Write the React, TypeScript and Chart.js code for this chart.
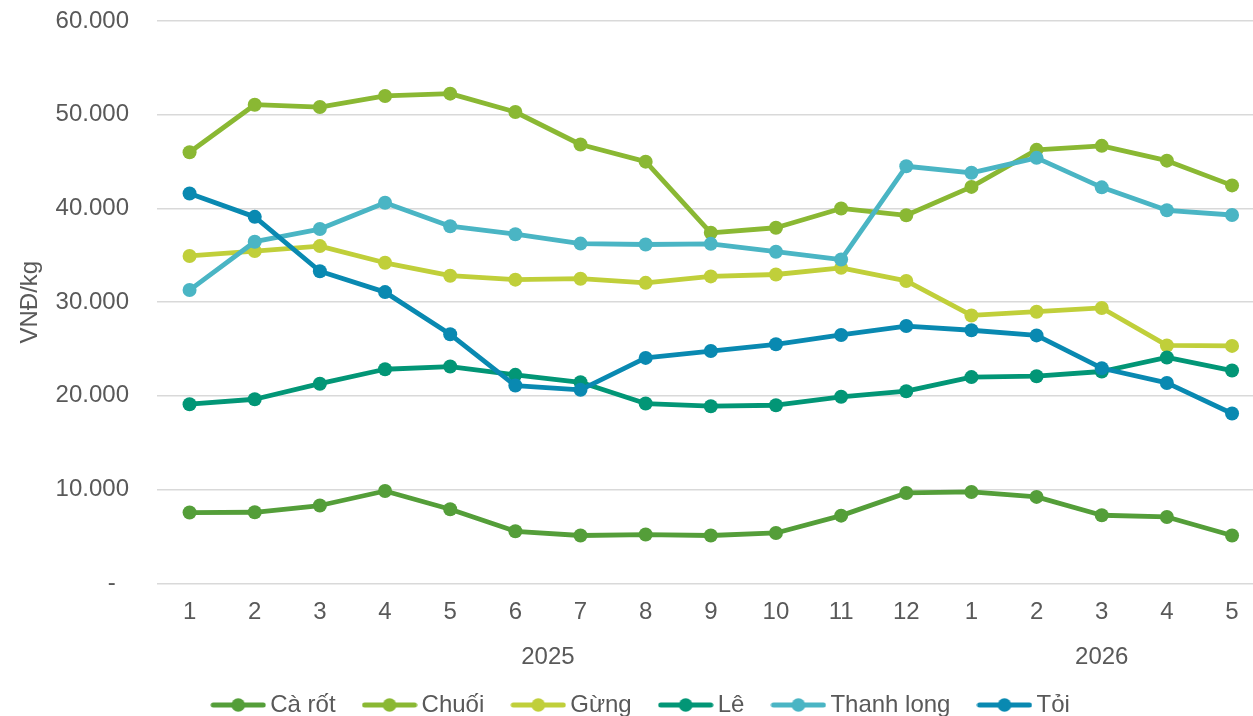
import React, { useEffect, useRef } from "react";
import { Chart, registerables } from "chart.js";

Chart.register(...registerables);

const months = ["1", "2", "3", "4", "5", "6", "7", "8", "9", "10", "11", "12", "1", "2", "3", "4", "5"];
const yearLabels = ["2025", "2026"];
const yearCounts = [12, 5];

const seriesNames = ["Cà rốt", "Chuối", "Gừng", "Lê", "Thanh long", "Tỏi"];
const seriesColors = ["#549E39", "#8AB833", "#C0CF3A", "#029676", "#4AB5C4", "#0989B1"];

const caRot = [7550, 7580, 8300, 9850, 7900, 5550, 5100, 5200, 5100, 5370, 7220, 9640, 9750, 9220, 7260, 7080, 5100];
const chuoi = [45990, 51070, 50820, 52000, 52250, 50290, 46820, 44990, 37400, 37940, 40000, 39270, 42300, 46250, 46680, 45100, 42460];
const gung = [34930, 35450, 35980, 34200, 32820, 32400, 32500, 32060, 32750, 32950, 33660, 32260, 28580, 28980, 29380, 25380, 25330];
const le = [19110, 19640, 21300, 22840, 23130, 22240, 21450, 19180, 18900, 19000, 19900, 20500, 22000, 22100, 22600, 24100, 22700];
const thanhLong = [31290, 36450, 37800, 40600, 38100, 37250, 36250, 36150, 36220, 35380, 34550, 44500, 43800, 45400, 42250, 39800, 39300];
const toi = [41600, 39100, 33300, 31070, 26570, 21100, 20640, 24050, 24780, 25500, 26500, 27450, 27000, 26450, 22950, 21380, 18120];

const seriesValues = [caRot, chuoi, gung, le, thanhLong, toi];

const yMin = 0;
const yMax = 60000;
const yStep = 10000;
const yTitle = "VNĐ/kg";

const FONT = "'Liberation Sans', Arial, sans-serif";
const TEXT = "#595959";
const CANVAS_W = 1288;
const CANVAS_H = 727;

function fmt(v: number): string {
  if (v === 0) return "-  ";
  return String(v).replace(/\B(?=(\d{3})+(?!\d))/g, ".");
}

function makeIcon(color: string): HTMLCanvasElement {
  const c = document.createElement("canvas");
  c.width = 56;
  c.height = 16;
  const g = c.getContext("2d")!;
  g.strokeStyle = color;
  g.lineWidth = 5;
  g.lineCap = "round";
  g.beginPath();
  g.moveTo(3, 8);
  g.lineTo(53, 8);
  g.stroke();
  g.fillStyle = color;
  g.beginPath();
  g.arc(28, 8, 6.8, 0, Math.PI * 2);
  g.fill();
  return c;
}

const yearPlugin = {
  id: "yearLabels",
  afterDraw(chart: any) {
    const xs = chart.scales.x;
    const ctx = chart.ctx;
    ctx.save();
    ctx.font = `24px ${FONT}`;
    ctx.fillStyle = TEXT;
    ctx.textAlign = "center";
    ctx.textBaseline = "alphabetic";
    let start = 0;
    yearLabels.forEach((lab, i) => {
      const end = start + yearCounts[i] - 1;
      const cx = xs.getPixelForValue((start + end) / 2);
      ctx.fillText(lab, cx, xs.top + 81);
      start += yearCounts[i];
    });
    ctx.restore();
  },
};

export default function App() {
  const ref = useRef<HTMLCanvasElement | null>(null);

  useEffect(() => {
    if (!ref.current) return;
    const icons = seriesColors.map((c) => makeIcon(c));
    const n = months.length;
    const xMax = -0.5 + (CANVAS_W - 157) / 65.56;
    const chart = new Chart(ref.current, {
      type: "line",
      data: {
        datasets: seriesNames.map((name, i) => ({
          label: name,
          data: seriesValues[i].map((v, k) => ({ x: k, y: v })),
          borderColor: seriesColors[i],
          backgroundColor: seriesColors[i],
          pointBackgroundColor: seriesColors[i],
          pointBorderColor: seriesColors[i],
          pointBorderWidth: 0,
          pointRadius: 7,
          pointHoverRadius: 7,
          borderWidth: 4.8,
          borderJoinStyle: "round",
          borderCapStyle: "round",
          tension: 0,
          fill: false,
          order: seriesNames.length - 1 - i,
        })),
      },
      options: {
        responsive: false,
        animation: false,
        events: [],
        layout: { padding: { top: 21, left: 0, right: 0, bottom: 0 } },
        scales: {
          x: {
            type: "linear",
            min: -0.5,
            max: xMax,
            grid: { display: false, drawTicks: false },
            border: { display: false },
            afterFit: (s: any) => {
              s.height = 75.7;
              s.paddingLeft = 0;
              s.paddingRight = 0;
            },
            ticks: {
              stepSize: 1,
              autoSkip: false,
              includeBounds: false,
              maxRotation: 0,
              minRotation: 0,
              padding: 15,
              color: TEXT,
              font: { family: FONT, size: 24 },
              callback: (v: any) => {
                const k = Number(v);
                return Number.isInteger(k) && k >= 0 && k < n ? months[k] : "";
              },
            },
          },
          y: {
            min: yMin,
            max: yMax,
            afterFit: (s: any) => {
              s.width = 157;
              s.paddingTop = 0;
              s.paddingBottom = 0;
            },
            grid: { color: "#D9D9D9", lineWidth: 1.5, drawTicks: false },
            border: { display: false },
            ticks: {
              stepSize: yStep,
              padding: 28,
              color: TEXT,
              font: { family: FONT, size: 24 },
              callback: (v: any) => fmt(Number(v)),
            },
            title: {
              display: true,
              text: yTitle,
              color: TEXT,
              font: { family: FONT, size: 24 },
              padding: { top: 15.5, bottom: 0 },
            },
          },
        },
        plugins: {
          tooltip: { enabled: false },
          legend: {
            display: true,
            position: "bottom",
            align: "center",
            labels: {
              usePointStyle: true,
              pointStyleWidth: 40,
              boxHeight: 24,
              padding: 34,
              color: TEXT,
              font: { family: FONT, size: 24 },
              generateLabels: (ch: any) => {
                const items = Chart.defaults.plugins.legend.labels.generateLabels(ch);
                return items
                  .sort((a: any, b: any) => a.datasetIndex - b.datasetIndex)
                  .map((it: any) => ({ ...it, pointStyle: icons[it.datasetIndex] }));
              },
            },
          },
        },
      },
      plugins: [yearPlugin],
    } as any);
    return () => chart.destroy();
  }, []);

  return (
    <div
      style={{
        position: "absolute",
        left: 0,
        top: 0,
        width: 1253,
        height: 716,
        overflow: "hidden",
        background: "#fff",
      }}
    >
      <canvas
        ref={ref}
        width={CANVAS_W}
        height={CANVAS_H}
        style={{ display: "block", width: CANVAS_W, height: CANVAS_H }}
      />
    </div>
  );
}
